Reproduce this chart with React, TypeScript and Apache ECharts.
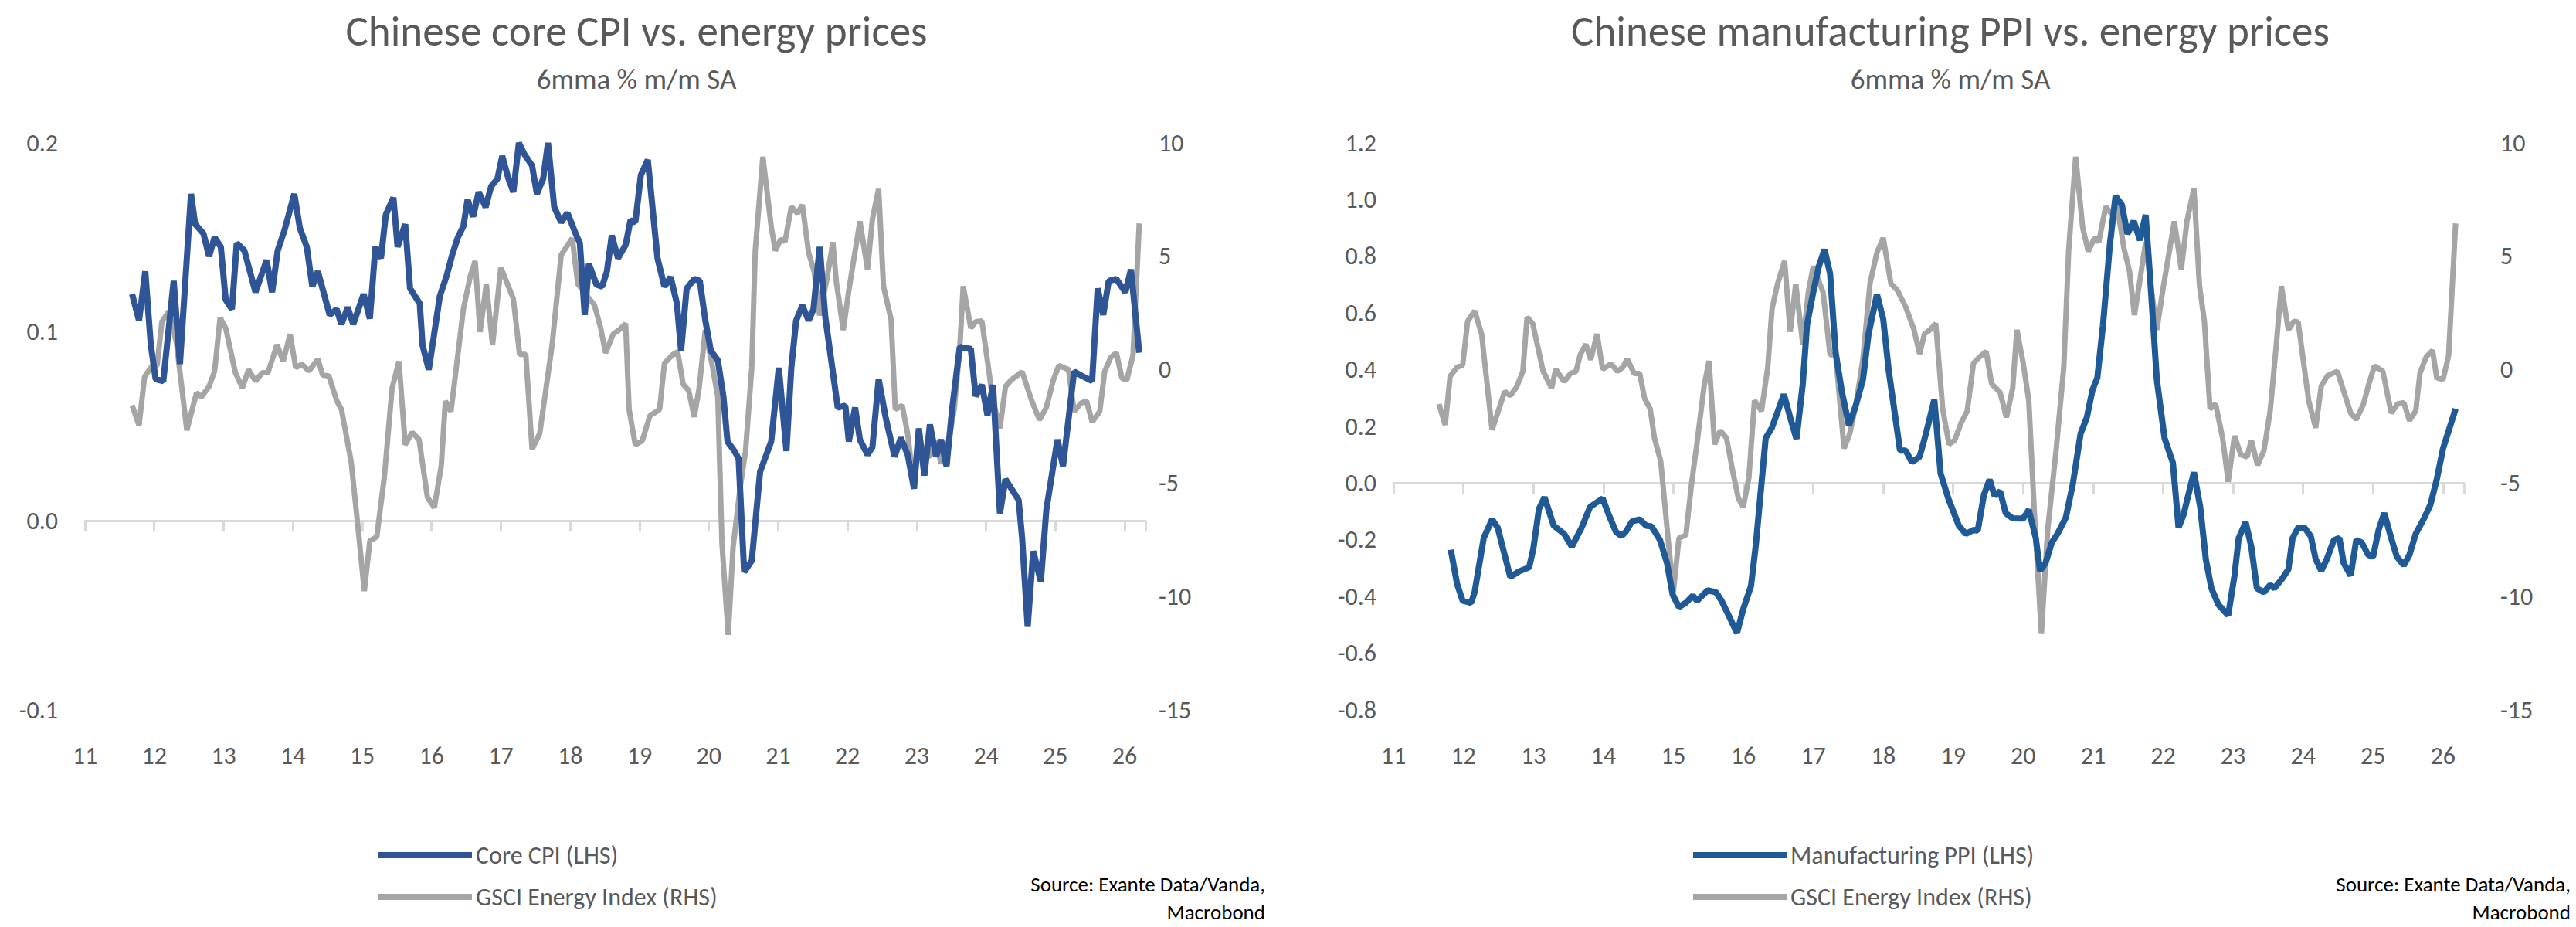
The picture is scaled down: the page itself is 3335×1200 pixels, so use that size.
import * as echarts from 'echarts';
import { useEffect, useRef } from 'react';

// [year (yy + fraction), value]
const coreCpi: [number, number][] = [
  [11.68, 0.12], [11.78, 0.106], [11.87, 0.132], [11.95, 0.093], [12.02, 0.075], [12.13, 0.074], [12.28, 0.127], [12.37, 0.083],
  [12.53, 0.173], [12.59, 0.157], [12.71, 0.152], [12.79, 0.14], [12.87, 0.15], [12.96, 0.145], [13.03, 0.117], [13.12, 0.112],
  [13.19, 0.147], [13.3, 0.143], [13.46, 0.121], [13.62, 0.138], [13.7, 0.121], [13.78, 0.143], [13.88, 0.154], [14.02, 0.173],
  [14.1, 0.155], [14.2, 0.145], [14.28, 0.124], [14.36, 0.132], [14.53, 0.109], [14.63, 0.112], [14.7, 0.104], [14.79, 0.113],
  [14.87, 0.104], [15.02, 0.12], [15.11, 0.107], [15.19, 0.145], [15.27, 0.139], [15.34, 0.162], [15.45, 0.171], [15.51, 0.145],
  [15.62, 0.157], [15.69, 0.123], [15.83, 0.115], [15.87, 0.093], [15.96, 0.08], [16.03, 0.097], [16.12, 0.119], [16.22, 0.13],
  [16.3, 0.141], [16.38, 0.15], [16.46, 0.156], [16.52, 0.17], [16.6, 0.161], [16.68, 0.174], [16.78, 0.166], [16.86, 0.177],
  [16.95, 0.181], [17.02, 0.193], [17.11, 0.181], [17.18, 0.174], [17.26, 0.2], [17.34, 0.194], [17.45, 0.188], [17.52, 0.173],
  [17.61, 0.181], [17.68, 0.2], [17.77, 0.166], [17.87, 0.158], [17.96, 0.163], [18.09, 0.151], [18.14, 0.147], [18.21, 0.109],
  [18.27, 0.136], [18.38, 0.125], [18.46, 0.124], [18.53, 0.132], [18.6, 0.151], [18.69, 0.139], [18.8, 0.146], [18.87, 0.159],
  [18.94, 0.158], [19.02, 0.183], [19.12, 0.191], [19.26, 0.139], [19.36, 0.124], [19.45, 0.129], [19.54, 0.115], [19.6, 0.09],
  [19.68, 0.123], [19.79, 0.128], [19.87, 0.127], [19.95, 0.106], [20.03, 0.09], [20.13, 0.085], [20.21, 0.066], [20.27, 0.042],
  [20.37, 0.037], [20.43, 0.033], [20.51, -0.027], [20.62, -0.021], [20.74, 0.026], [20.9, 0.042], [21.01, 0.081], [21.12, 0.037],
  [21.19, 0.081], [21.26, 0.106], [21.35, 0.114], [21.44, 0.106], [21.51, 0.112], [21.6, 0.145], [21.68, 0.108], [21.86, 0.06],
  [21.97, 0.061], [22.02, 0.042], [22.11, 0.06], [22.18, 0.043], [22.29, 0.035], [22.36, 0.039], [22.45, 0.075], [22.55, 0.055],
  [22.68, 0.034], [22.77, 0.044], [22.87, 0.035], [22.96, 0.017], [23.03, 0.049], [23.11, 0.024], [23.19, 0.051], [23.28, 0.034],
  [23.35, 0.043], [23.43, 0.029], [23.51, 0.059], [23.62, 0.092], [23.78, 0.091], [23.85, 0.066], [23.94, 0.072], [24.02, 0.056],
  [24.1, 0.072], [24.2, 0.004], [24.28, 0.022], [24.47, 0.011], [24.52, -0.009], [24.6, -0.056], [24.68, -0.016], [24.79, -0.032],
  [24.87, 0.006], [25.03, 0.043], [25.11, 0.029], [25.27, 0.079], [25.37, 0.077], [25.53, 0.074], [25.61, 0.123], [25.69, 0.109],
  [25.77, 0.127], [25.88, 0.128], [26.01, 0.121], [26.09, 0.133], [26.21, 0.089],
];

const gsciLeft: [number, number][] = [
  [11.68, -1.57], [11.78, -2.45], [11.86, -0.31], [11.97, 0.18], [12.04, 0.18], [12.11, 2.12], [12.21, 2.58], [12.32, 1.19],
  [12.47, -2.67], [12.61, -1.01], [12.68, -1.2], [12.79, -0.74], [12.87, -0.06], [12.95, 2.3], [13.03, 1.84], [13.17, -0.13],
  [13.27, -0.79], [13.36, 0.0], [13.46, -0.5], [13.56, -0.13], [13.64, -0.13], [13.77, 1.1], [13.86, 0.37], [13.96, 1.57],
  [14.04, 0.09], [14.13, 0.24], [14.23, -0.06], [14.36, 0.46], [14.43, -0.24], [14.52, -0.28], [14.63, -1.35], [14.7, -1.75],
  [14.84, -4.05], [14.95, -7.27], [15.03, -9.76], [15.11, -7.55], [15.21, -7.37], [15.32, -4.7], [15.43, -0.83], [15.53, 0.37],
  [15.62, -3.31], [15.72, -2.76], [15.82, -3.08], [15.94, -5.62], [16.04, -6.08], [16.14, -4.24], [16.2, -1.38], [16.28, -1.84],
  [16.35, -0.09], [16.46, 2.68], [16.56, 4.14], [16.63, 4.79], [16.7, 1.66], [16.79, 3.78], [16.88, 1.1], [17.0, 4.51],
  [17.18, 3.13], [17.27, 0.68], [17.36, 0.68], [17.45, -3.5], [17.56, -2.82], [17.74, 1.1], [17.87, 5.06], [18.03, 5.8],
  [18.11, 3.78], [18.35, 2.85], [18.44, 1.84], [18.51, 0.74], [18.62, 1.57], [18.72, 1.79], [18.8, 2.03], [18.85, -1.75],
  [18.94, -3.31], [19.04, -3.13], [19.15, -2.03], [19.29, -1.75], [19.36, 0.28], [19.47, 0.64], [19.55, 0.79], [19.63, -0.64],
  [19.71, -0.92], [19.79, -2.08], [19.86, -0.83], [19.95, 1.75], [20.05, 0.18], [20.13, -1.2], [20.19, -7.64], [20.28, -11.69],
  [20.35, -7.83], [20.45, -5.25], [20.53, -3.59], [20.62, 0.09], [20.67, 5.25], [20.78, 9.39], [20.9, 6.32], [20.96, 5.25],
  [21.04, 5.76], [21.1, 5.65], [21.19, 7.18], [21.28, 6.9], [21.35, 7.27], [21.44, 5.16], [21.52, 4.33], [21.6, 2.39],
  [21.7, 3.94], [21.79, 5.62], [21.84, 3.87], [21.94, 1.75], [22.02, 3.5], [22.18, 6.54], [22.29, 4.42], [22.36, 6.63],
  [22.45, 7.97], [22.52, 3.68], [22.63, 2.21], [22.69, -1.75], [22.79, -1.57], [22.87, -2.85], [22.95, -4.97], [23.03, -2.95],
  [23.12, -3.78], [23.19, -3.81], [23.28, -3.13], [23.35, -4.14], [23.44, -3.5], [23.54, -1.75], [23.62, 0.92], [23.67, 3.68],
  [23.78, 1.84], [23.85, 2.12], [23.94, 2.15], [24.1, -1.38], [24.2, -2.58], [24.28, -0.74], [24.36, -0.46], [24.52, -0.09],
  [24.66, -1.38], [24.77, -2.21], [24.87, -1.66], [24.97, -0.46], [25.05, 0.18], [25.19, 0.0], [25.27, -1.84], [25.37, -1.47],
  [25.45, -1.38], [25.53, -2.3], [25.64, -1.84], [25.71, -0.09], [25.8, 0.55], [25.88, 0.74], [25.96, -0.37], [26.03, -0.46],
  [26.12, 0.64], [26.21, 6.45],
];

const mfgPpi: [number, number][] = [
  [11.82, -0.235], [11.91, -0.356], [11.99, -0.415], [12.11, -0.422], [12.16, -0.385], [12.29, -0.194], [12.41, -0.128], [12.49, -0.157],
  [12.67, -0.331], [12.79, -0.312], [12.94, -0.297], [13.0, -0.231], [13.08, -0.091], [13.16, -0.05], [13.29, -0.15], [13.44, -0.179],
  [13.55, -0.224], [13.69, -0.157], [13.81, -0.084], [13.99, -0.054], [14.08, -0.113], [14.18, -0.172], [14.26, -0.187], [14.32, -0.172],
  [14.41, -0.135], [14.52, -0.128], [14.61, -0.15], [14.69, -0.153], [14.81, -0.201], [14.91, -0.282], [14.99, -0.393], [15.08, -0.437],
  [15.18, -0.422], [15.28, -0.397], [15.34, -0.415], [15.49, -0.378], [15.61, -0.385], [15.69, -0.415], [15.79, -0.466], [15.91, -0.529],
  [16.0, -0.444], [16.11, -0.363], [16.18, -0.216], [16.32, 0.159], [16.41, 0.196], [16.58, 0.313], [16.67, 0.232], [16.76, 0.156],
  [16.85, 0.35], [16.91, 0.556], [17.0, 0.674], [17.08, 0.765], [17.16, 0.824], [17.24, 0.74], [17.32, 0.46], [17.41, 0.321],
  [17.51, 0.203], [17.61, 0.276], [17.71, 0.365], [17.79, 0.526], [17.91, 0.666], [18.0, 0.578], [18.08, 0.394], [18.24, 0.115],
  [18.32, 0.115], [18.41, 0.074], [18.52, 0.093], [18.61, 0.174], [18.73, 0.294], [18.82, 0.034], [18.93, -0.054], [19.08, -0.15],
  [19.18, -0.179], [19.29, -0.165], [19.35, -0.168], [19.44, -0.04], [19.52, 0.012], [19.59, -0.044], [19.67, -0.029], [19.75, -0.106],
  [19.85, -0.124], [20.0, -0.125], [20.08, -0.094], [20.18, -0.194], [20.24, -0.309], [20.32, -0.282], [20.41, -0.209], [20.49, -0.179],
  [20.61, -0.121], [20.71, -0.003], [20.82, 0.174], [20.91, 0.232], [20.99, 0.328], [21.06, 0.372], [21.14, 0.556], [21.24, 0.843],
  [21.32, 1.012], [21.41, 0.982], [21.49, 0.879], [21.58, 0.924], [21.67, 0.857], [21.75, 0.946], [21.82, 0.703], [21.91, 0.365],
  [22.02, 0.159], [22.14, 0.071], [22.22, -0.157], [22.29, -0.113], [22.44, 0.038], [22.53, -0.084], [22.61, -0.268], [22.69, -0.371],
  [22.79, -0.429], [22.93, -0.466], [23.02, -0.326], [23.08, -0.194], [23.18, -0.138], [23.26, -0.224], [23.34, -0.371], [23.44, -0.385],
  [23.53, -0.359], [23.59, -0.371], [23.71, -0.334], [23.79, -0.304], [23.85, -0.194], [23.93, -0.157], [24.02, -0.157], [24.11, -0.187],
  [24.18, -0.268], [24.26, -0.309], [24.34, -0.268], [24.44, -0.201], [24.52, -0.194], [24.58, -0.282], [24.68, -0.326], [24.76, -0.201],
  [24.84, -0.21], [24.93, -0.253], [25.0, -0.26], [25.08, -0.165], [25.16, -0.106], [25.26, -0.194], [25.34, -0.26], [25.44, -0.29],
  [25.52, -0.253], [25.61, -0.179], [25.73, -0.124], [25.82, -0.076], [25.91, 0.012], [26.0, 0.122], [26.18, 0.262],
];

const gsciRight: [number, number][] = [
  [11.65, -1.51], [11.74, -2.43], [11.81, -0.29], [11.91, 0.11], [11.99, 0.2], [12.06, 2.13], [12.16, 2.59], [12.26, 1.58],
  [12.41, -2.65], [12.59, -0.96], [12.67, -1.14], [12.76, -0.77], [12.85, -0.07], [12.91, 2.32], [12.99, 2.04], [13.14, -0.07],
  [13.26, -0.81], [13.32, 0.02], [13.44, -0.53], [13.53, -0.17], [13.61, -0.07], [13.67, 0.66], [13.75, 1.12], [13.82, 0.44],
  [13.91, 1.58], [13.99, 0.02], [14.11, 0.26], [14.2, -0.07], [14.28, 0.11], [14.34, 0.48], [14.44, -0.17], [14.52, -0.17],
  [14.59, -1.27], [14.67, -1.73], [14.73, -3.01], [14.82, -4.03], [14.91, -6.97], [15.0, -9.82], [15.08, -7.43], [15.18, -7.28],
  [15.26, -5.04], [15.34, -3.2], [15.44, -0.72], [15.51, 0.39], [15.59, -3.29], [15.67, -2.68], [15.76, -3.01], [15.85, -4.49],
  [15.93, -5.68], [16.0, -6.05], [16.08, -4.76], [16.16, -1.36], [16.26, -1.82], [16.35, 0.11], [16.41, 2.68], [16.49, 3.79],
  [16.59, 4.8], [16.67, 1.67], [16.75, 3.79], [16.85, 1.12], [16.93, 3.42], [17.0, 4.56], [17.14, 3.42], [17.24, 0.66],
  [17.32, 0.66], [17.44, -3.47], [17.52, -2.83], [17.61, -1.54], [17.71, 0.48], [17.81, 3.79], [17.91, 5.17], [18.0, 5.81],
  [18.11, 3.79], [18.2, 3.51], [18.32, 2.78], [18.44, 1.76], [18.52, 0.7], [18.59, 1.58], [18.67, 1.76], [18.75, 2.04],
  [18.85, -1.73], [18.94, -3.29], [19.02, -3.11], [19.11, -2.37], [19.2, -1.82], [19.29, 0.29], [19.38, 0.57], [19.47, 0.81],
  [19.55, -0.63], [19.67, -1.0], [19.76, -2.1], [19.85, -0.81], [19.91, 1.76], [20.0, 0.29], [20.08, -1.36], [20.16, -6.32],
  [20.26, -11.65], [20.35, -7.06], [20.47, -3.57], [20.58, 0.11], [20.65, 5.26], [20.75, 9.39], [20.85, 6.27], [20.93, 5.22],
  [21.02, 5.81], [21.08, 5.63], [21.18, 7.19], [21.26, 6.88], [21.34, 7.28], [21.44, 5.35], [21.52, 4.34], [21.59, 2.41],
  [21.67, 3.97], [21.75, 5.63], [21.82, 3.79], [21.91, 1.76], [22.0, 3.6], [22.16, 6.54], [22.26, 4.43], [22.34, 6.54],
  [22.44, 7.98], [22.52, 3.69], [22.59, 2.13], [22.67, -1.73], [22.75, -1.51], [22.85, -3.01], [22.93, -4.94], [23.02, -2.92],
  [23.11, -3.75], [23.2, -3.84], [23.26, -3.11], [23.35, -4.21], [23.44, -3.57], [23.53, -1.82], [23.61, 0.85], [23.69, 3.69],
  [23.79, 1.76], [23.87, 2.13], [23.93, 2.1], [24.08, -1.36], [24.18, -2.56], [24.26, -0.72], [24.35, -0.26], [24.49, -0.07],
  [24.68, -1.91], [24.76, -2.19], [24.86, -1.54], [24.94, -0.63], [25.02, 0.17], [25.14, -0.07], [25.26, -1.91], [25.35, -1.51],
  [25.44, -1.45], [25.52, -2.24], [25.61, -1.82], [25.67, -0.17], [25.76, 0.57], [25.85, 0.85], [25.91, -0.35], [26.0, -0.44],
  [26.08, 0.63], [26.18, 6.45],
];

const TEXT = '#595959';
const GRAY = '#A5A5A5';
const FONT = 'Calibri, Carlito, "Open Sans", "Noto Sans", sans-serif';

const yearLabel = (v: number) => (Number.isInteger(v) ? String(v) : '');

function xAxesFor(grid: number) {
  return [
    {
      type: 'value', gridIndex: grid, min: 11, max: 26.3, interval: 1,
      axisLine: { onZero: true, lineStyle: { color: '#D9D9D9', width: 3 } },
      axisTick: { show: true, length: 14, lineStyle: { color: '#D9D9D9', width: 3 } },
      axisLabel: { show: false }, splitLine: { show: false },
    },
    {
      type: 'value', gridIndex: grid, min: 11, max: 26.3, interval: 1, position: 'bottom',
      axisLine: { show: false, onZero: false }, axisTick: { show: false }, splitLine: { show: false },
      axisLabel: { color: TEXT, fontSize: 32, fontFamily: FONT, margin: 43, formatter: yearLabel },
    },
  ];
}

function yAxis(grid: number, pos: 'left' | 'right', min: number, max: number, interval: number, dec: number, margin: number) {
  return {
    type: 'value', gridIndex: grid, position: pos, min, max, interval,
    axisLine: { show: false }, axisTick: { show: false }, splitLine: { show: false },
    axisLabel: { color: TEXT, fontSize: 32, fontFamily: FONT, margin, formatter: (v: number) => v.toFixed(dec) },
  };
}

function sourceText(x: number) {
  return {
    type: 'text', x, y: 1126,
    style: { text: 'Source: Exante Data/Vanda,\nMacrobond', fill: '#000', font: `27px ${FONT}`, align: 'right', verticalAlign: 'top', lineHeight: 36 },
  };
}

export default function App() {
  const ref = useRef<HTMLDivElement | null>(null);

  useEffect(() => {
    document.body.style.margin = '0';
    if (!ref.current) return;
    const chart = echarts.init(ref.current, undefined, { renderer: 'svg' });
    const legendText = { color: TEXT, fontSize: 32, fontFamily: FONT };
    chart.setOption({
      animation: false,
      textStyle: { fontFamily: FONT },
      title: [
        { text: 'Chinese core CPI vs. energy prices', subtext: '6mma % m/m SA', left: 819, top: 8, textAlign: 'center', itemGap: 16,
          textStyle: { color: TEXT, fontSize: 55, fontWeight: 'normal' }, subtextStyle: { color: TEXT, fontSize: 37 } },
        { text: 'Chinese manufacturing PPI vs. energy prices', subtext: '6mma % m/m SA', left: 2520, top: 8, textAlign: 'center', itemGap: 16,
          textStyle: { color: TEXT, fontSize: 55, fontWeight: 'normal' }, subtextStyle: { color: TEXT, fontSize: 37 } },
      ],
      legend: [
        { data: ['Core CPI (LHS)', 'GSCI Energy Index (RHS)'], orient: 'vertical', left: 485, top: 1086, itemWidth: 121, itemHeight: 8, itemGap: 22,
          icon: 'rect', textStyle: legendText },
        { data: ['Manufacturing PPI (LHS)', 'GSCI Energy Index (RHS) '], orient: 'vertical', left: 2187, top: 1086, itemWidth: 121, itemHeight: 8, itemGap: 22,
          icon: 'rect', textStyle: legendText },
      ],
      graphic: [sourceText(1638), sourceText(3328)],
      grid: [
        { left: 110, right: 1852, top: 185, height: 734 },
        { left: 1804, right: 145, top: 185, height: 734 },
      ],
      xAxis: [...xAxesFor(0), ...xAxesFor(1)],
      yAxis: [
        yAxis(0, 'left', -0.1, 0.2, 0.1, 1, 35),
        yAxis(0, 'right', -15, 10, 5, 0, 17),
        yAxis(1, 'left', -0.8, 1.2, 0.2, 1, 22),
        yAxis(1, 'right', -15, 10, 5, 0, 47),
      ],
      series: [
        { name: 'GSCI Energy Index (RHS)', type: 'line', xAxisIndex: 0, yAxisIndex: 1, data: gsciLeft, showSymbol: false,
          lineStyle: { color: GRAY, width: 7 }, itemStyle: { color: GRAY } },
        { name: 'Core CPI (LHS)', type: 'line', xAxisIndex: 0, yAxisIndex: 0, data: coreCpi, showSymbol: false,
          lineStyle: { color: '#2F5597', width: 8 }, itemStyle: { color: '#2F5597' } },
        { name: 'GSCI Energy Index (RHS) ', type: 'line', xAxisIndex: 2, yAxisIndex: 3, data: gsciRight, showSymbol: false,
          lineStyle: { color: GRAY, width: 7 }, itemStyle: { color: GRAY } },
        { name: 'Manufacturing PPI (LHS)', type: 'line', xAxisIndex: 2, yAxisIndex: 2, data: mfgPpi, showSymbol: false,
          lineStyle: { color: '#1F5A96', width: 8 }, itemStyle: { color: '#1F5A96' } },
      ],
    });
    return () => chart.dispose();
  }, []);

  return <div ref={ref} style={{ width: 3335, height: 1200 }} />;
}
